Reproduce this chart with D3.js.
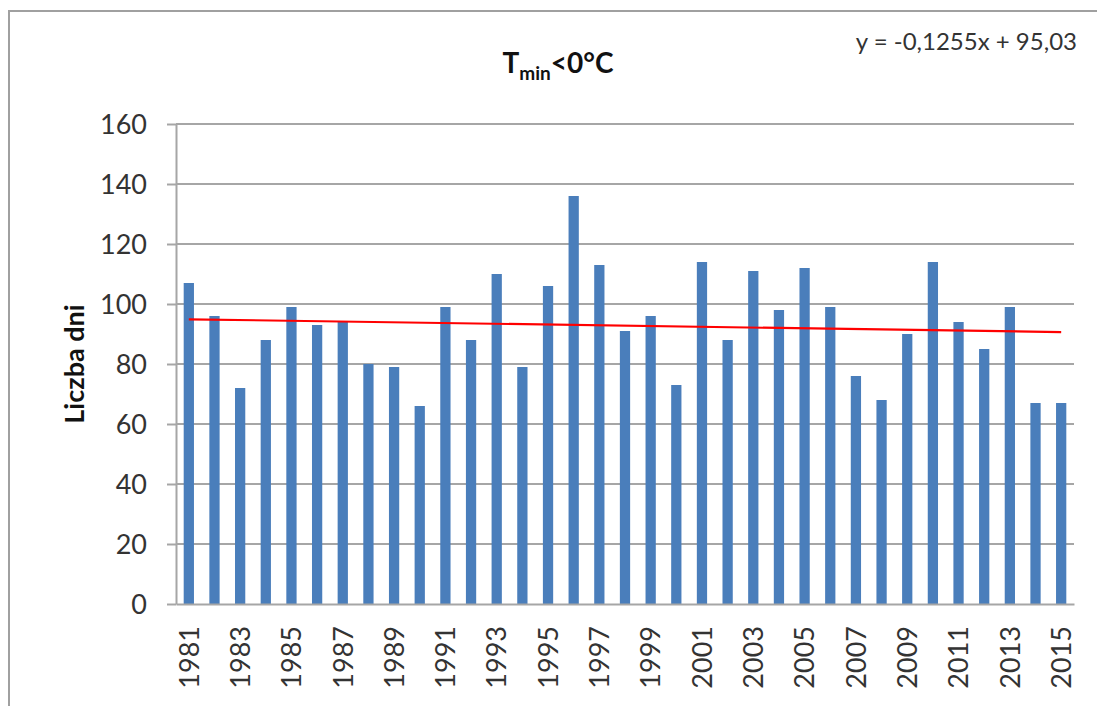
<!DOCTYPE html>
<html>
<head>
<meta charset="utf-8">
<script src="https://cdn.jsdelivr.net/npm/d3@7"></script>
<style>
  html, body { margin: 0; padding: 0; background: #fff; }
  svg { display: block; }
  text { font-family: Lato, "Open Sans", "Liberation Sans", sans-serif; }
</style>
</head>
<body>
<svg id="chart" width="1097" height="706"></svg>
<script>
// Number of days with Tmin < 0 °C, per year
const years = d3.range(1981, 2016);
const days = [107, 96, 72, 88, 99, 93, 94, 80, 79, 66,
              99, 88, 110, 79, 106, 136, 113, 91, 96, 73,
              114, 88, 111, 98, 112, 99, 76, 68, 90, 114,
              94, 85, 99, 67, 67];
const yTicks = [0, 20, 40, 60, 80, 100, 120, 140, 160];
const xLabelYears = years.filter(y => (y - 1981) % 2 === 0);
// Linear trend y = a*x + b, x = 1..n
const trendSlope = -0.1255;
const trendIntercept = 95.03;
const trendLabel = "y = -0,1255x + 95,03";

const svg = d3.select("#chart");
const W = 1097, H = 706;
const plot = { left: 176, right: 1074, top: 124, bottom: 604 };

// Frame around the chart
svg.append("path")
  .attr("d", `M9,${H} L9,11 L${W},11`)
  .attr("fill", "none")
  .attr("stroke", "#a0a0a0")
  .attr("stroke-width", 2);

const x = d3.scaleBand()
  .domain(years)
  .range([plot.left, plot.right])
  .paddingInner(0.6)
  .paddingOuter(0.3);

const y = d3.scaleLinear()
  .domain([0, 160])
  .range([plot.bottom, plot.top]);

// Horizontal gridlines
svg.append("g")
  .selectAll("line")
  .data(yTicks.filter(t => t > 0))
  .join("line")
  .attr("x1", plot.left)
  .attr("x2", plot.right)
  .attr("y1", d => y(d))
  .attr("y2", d => y(d))
  .attr("stroke", "#a6a6a6")
  .attr("stroke-width", 2);

// Y axis
const yAxis = svg.append("g")
  .attr("transform", `translate(${plot.left},0)`)
  .call(d3.axisLeft(y).tickValues(yTicks).tickSize(9).tickPadding(20).tickSizeOuter(0));
yAxis.select(".domain").attr("stroke", "#a6a6a6").attr("stroke-width", 2);
yAxis.selectAll(".tick line").attr("stroke", "#a6a6a6").attr("stroke-width", 2);
yAxis.selectAll(".tick text")
  .attr("fill", "#333")
  .style("font-size", "27px")
  .attr("dy", "0.36em");

// Bars
svg.append("g")
  .selectAll("rect")
  .data(years.map((yr, i) => ({ yr, v: days[i] })))
  .join("rect")
  .attr("x", d => x(d.yr))
  .attr("width", x.bandwidth())
  .attr("y", d => y(d.v))
  .attr("height", d => y(0) - y(d.v))
  .attr("fill", "#4a7ebb");

// X axis
const xAxis = svg.append("g")
  .attr("transform", `translate(0,${plot.bottom})`)
  .call(d3.axisBottom(x).tickValues(xLabelYears).tickSize(0).tickSizeOuter(0));
xAxis.select(".domain").attr("stroke", "#a6a6a6").attr("stroke-width", 2);
xAxis.selectAll(".tick text")
  .attr("fill", "#333")
  .style("font-size", "27px")
  .attr("text-anchor", "end")
  .attr("transform", "rotate(-90)")
  .attr("x", -22)
  .attr("y", 0)
  .attr("dy", "0.36em");

// Trend line
const trendPts = [1, years.length].map(i => ({
  yr: years[i - 1],
  v: trendSlope * i + trendIntercept
}));
svg.append("path")
  .datum(trendPts)
  .attr("fill", "none")
  .attr("stroke", "#ff0000")
  .attr("stroke-width", 2.2)
  .attr("d", d3.line()
    .x(d => x(d.yr) + x.bandwidth() / 2)
    .y(d => y(d.v)));

// Title: T_min<0°C
const title = svg.append("text")
  .attr("x", 558)
  .attr("y", 73)
  .attr("text-anchor", "middle")
  .attr("fill", "#111")
  .style("font-size", "28px")
  .style("font-weight", "bold");
title.append("tspan").text("T");
title.append("tspan").text("min").attr("dy", 7).style("font-size", "19px");
title.append("tspan").text("<0°C").attr("dy", -7);

// Trend equation
svg.append("text")
  .attr("x", 1077)
  .attr("y", 50)
  .attr("text-anchor", "end")
  .attr("fill", "#333")
  .style("font-size", "24px")
  .text(trendLabel);

// Y axis title
svg.append("text")
  .attr("transform", `translate(84,${(plot.top + plot.bottom) / 2}) rotate(-90)`)
  .attr("text-anchor", "middle")
  .attr("fill", "#111")
  .style("font-size", "27px")
  .style("font-weight", "bold")
  .text("Liczba dni");
</script>
</body>
</html>
